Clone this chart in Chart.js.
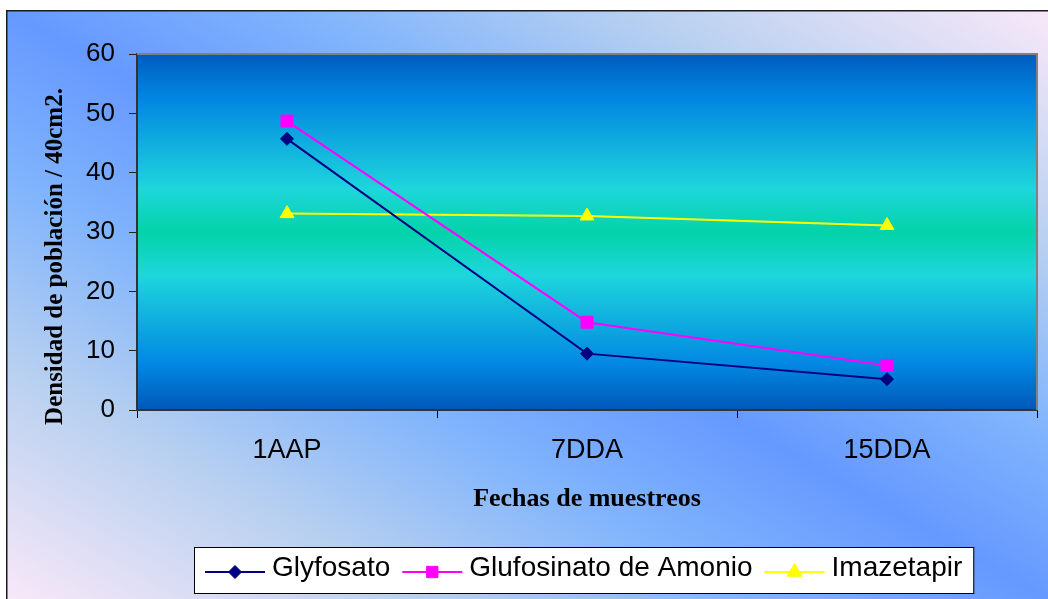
<!DOCTYPE html>
<html><head><meta charset="utf-8">
<script src="https://cdn.jsdelivr.net/npm/chart.js@4/dist/chart.umd.min.js"></script>
<style>html,body{margin:0;padding:0;background:#fff;overflow:hidden}#wrap{width:1048px;height:599px;position:relative}</style>
</head><body><div id="wrap"><canvas id="c" width="1048" height="599"></canvas></div>
<script>
const categories = ['1AAP', '7DDA', '15DDA'];
const seriesNames = ['Glyfosato', 'Glufosinato de Amonio', 'Imazetapir'];
const glyfosato = [45.7, 9.5, 5.2];
const glufosinato = [48.7, 14.8, 7.5];
const imazetapir = [33.1, 32.7, 31.1];
const yMin = 0, yMax = 60, yStep = 10;
const yTitle = 'Densidad de población / 40cm2.';
const xTitle = 'Fechas de muestreos';
const seriesColors = ['#000080', '#FF00FF', '#FFFF00'];
const seriesMarkers = ['rectRot', 'rect', 'triangle'];

const SANS = '"Liberation Sans", Arial, sans-serif';
const SERIF = '"Liberation Serif", "Times New Roman", serif';

function drawMarker(ctx, style, r, x, y, bw) {
  if (Chart.helpers && Chart.helpers.drawPoint) {
    Chart.helpers.drawPoint(ctx, {pointStyle: style, radius: r, rotation: 0, borderWidth: bw}, x, y);
  }
}

const decoPlugin = {
  id: 'deco',
  beforeDraw(chart) {
    const ctx = chart.ctx, W = chart.width, H = chart.height;
    ctx.save();
    ctx.fillStyle = '#ffffff'; ctx.fillRect(0, 0, W, H);
    ctx.fillStyle = '#1a1a1a'; ctx.fillRect(6, 10, W - 6, H - 10);
    const x0 = 7.5, y0 = 11.5, w = W - x0, h = H - y0;
    ctx.save();
    ctx.translate(x0, y0); ctx.scale(w, h);
    const g = ctx.createLinearGradient(1, 0, 0, 1);
    g.addColorStop(0, '#F8E8F8');
    g.addColorStop(0.2, '#B8D0F0');
    g.addColorStop(0.36, '#80B4FC');
    g.addColorStop(0.5, '#6699FF');
    g.addColorStop(0.64, '#80B4FC');
    g.addColorStop(0.8, '#B8D0F0');
    g.addColorStop(1, '#F8E8F8');
    ctx.fillStyle = g; ctx.fillRect(0, 0, 1, 1);
    ctx.restore();
    const a = chart.chartArea;
    const pg = ctx.createLinearGradient(0, a.top, 0, a.bottom);
    pg.addColorStop(0, '#005CBE');
    pg.addColorStop(0.13, '#0288E2');
    pg.addColorStop(0.38, '#1ED6DC');
    pg.addColorStop(0.5, '#03D3A9');
    pg.addColorStop(0.62, '#1ED6DC');
    pg.addColorStop(0.87, '#0288E2');
    pg.addColorStop(1, '#0058B8');
    ctx.fillStyle = pg;
    ctx.fillRect(a.left, a.top, a.right - a.left, a.bottom - a.top);
    ctx.restore();
  },
  beforeDatasetsDraw(chart) {
    const ctx = chart.ctx, a = chart.chartArea;
    ctx.save();
    ctx.strokeStyle = '#808080'; ctx.lineWidth = 2;
    ctx.beginPath();
    ctx.moveTo(a.left, a.top); ctx.lineTo(a.right, a.top); ctx.lineTo(a.right, a.bottom);
    ctx.stroke();
    ctx.restore();
  },
  afterDraw(chart) {
    const ctx = chart.ctx;
    ctx.save();
    ctx.fillStyle = '#000';
    ctx.font = 'bold 26px ' + SERIF;
    ctx.textAlign = 'center'; ctx.textBaseline = 'alphabetic';
    const a = chart.chartArea;
    ctx.fillText(xTitle, (a.left + a.right) / 2, 506);
    ctx.save();
    ctx.translate(62, 256.5); ctx.rotate(-Math.PI / 2);
    ctx.font = 'bold 25px ' + SERIF;
    ctx.fillText(yTitle, 0, 0);
    ctx.restore();
    const boxL = 194, boxT = 547, boxH = 46;
    ctx.font = '28px ' + SANS;
    ctx.textAlign = 'left';
    let x = 205;
    const items = [];
    chart.data.datasets.forEach((ds, i) => {
      const tw = ctx.measureText(ds.label).width;
      items.push({x, tw, ds, i});
      x = x + 67 + tw + 12;
    });
    const last = items[items.length - 1];
    const boxR = last.x + 67 + last.tw + 11;
    ctx.fillStyle = '#ffffff';
    ctx.fillRect(boxL, boxT, boxR - boxL, boxH);
    ctx.strokeStyle = '#000'; ctx.lineWidth = 1;
    ctx.strokeRect(boxL + 0.5, boxT + 0.5, boxR - boxL, boxH);
    const cy = 572;
    const legR = [6.5, 8, 8.5];
    items.forEach(it => {
      ctx.strokeStyle = it.ds.borderColor; ctx.lineWidth = 2;
      ctx.beginPath(); ctx.moveTo(it.x, cy); ctx.lineTo(it.x + 60, cy); ctx.stroke();
      ctx.fillStyle = it.ds.backgroundColor; ctx.strokeStyle = it.ds.borderColor; ctx.lineWidth = 1;
      drawMarker(ctx, it.ds.pointStyle, legR[it.i], it.x + 30, cy, 1);
      ctx.fillStyle = '#000';
      ctx.fillText(it.ds.label, it.x + 67, 576);
    });
    ctx.restore();
  }
};

const allSeries = [glyfosato, glufosinato, imazetapir];
const radii = [6.5, 8.5, 8];
const datasets = allSeries.map((d, i) => ({
  label: seriesNames[i],
  data: d,
  borderColor: seriesColors[i],
  backgroundColor: seriesColors[i],
  borderWidth: 2,
  pointStyle: seriesMarkers[i],
  pointRadius: radii[i],
  pointHoverRadius: radii[i],
  pointBorderWidth: 1,
  tension: 0,
  fill: false
}));

new Chart(document.getElementById('c'), {
  type: 'line',
  data: {labels: categories, datasets},
  plugins: [decoPlugin],
  options: {
    responsive: false,
    animation: false,
    devicePixelRatio: 1,
    layout: {padding: {top: 54, right: 11, bottom: 0, left: 0}},
    plugins: {legend: {display: false}, tooltip: {enabled: false}, title: {display: false}},
    scales: {
      x: {
        offset: true,
        grid: {offset: true, drawOnChartArea: false, drawTicks: true, tickLength: 8, color: '#000', lineWidth: 1},
        border: {display: true, color: '#333333', width: 2},
        ticks: {color: '#000', font: {family: SANS, size: 27}, padding: 16, maxRotation: 0},
        afterFit(s) { s.height = 189; }
      },
      y: {
        min: yMin, max: yMax,
        grid: {drawOnChartArea: false, drawTicks: true, tickLength: 8, color: '#222', lineWidth: 1},
        border: {display: true, color: '#333333', width: 2},
        ticks: {stepSize: yStep, color: '#000', font: {family: SANS, size: 26}, padding: 14},
        afterFit(s) { s.width = 137; }
      }
    }
  }
});
</script>
</body></html>
